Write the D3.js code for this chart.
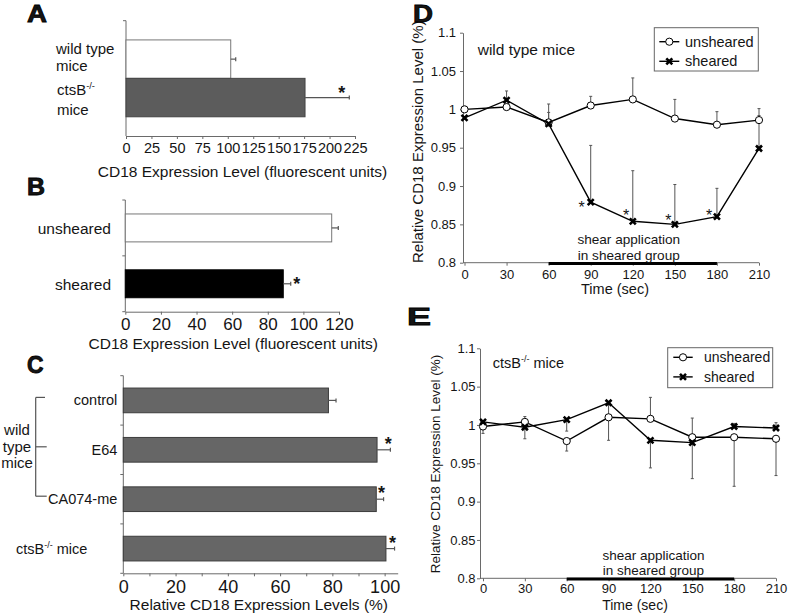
<!DOCTYPE html>
<html><head><meta charset="utf-8">
<script src="https://cdn.jsdelivr.net/npm/d3@7"></script>
<style>
body{margin:0;background:#fff}
svg{display:block}
text{font-family:"Liberation Sans",Arial,Helvetica,sans-serif;fill:#151515}
</style>
</head><body>
<svg id="c" width="791" height="616"></svg>
<script>
// ---------------- DATA ----------------
// Panel A
const aCats = ["wild type mice", "ctsB-/- mice"];
const aValues = [102.9, 175.9];
const aErrors = [4.9, 43.5];
const aSig = [false, true];
const aTicks = [0, 25, 50, 75, 100, 125, 150, 175, 200, 225];
// Panel B
const bCats = ["unsheared", "sheared"];
const bValues = [115.9, 88.7];
const bErrors = [3.7, 4.2];
const bSig = [false, true];
const bTicks = [0, 20, 40, 60, 80, 100, 120];
// Panel C
const cCats = ["control", "E64", "CA074-me", "ctsB-/- mice"];
const cValues = [78.5, 97.1, 96.8, 100.5];
const cErrors = [2.9, 5.1, 2.8, 3.3];
const cSig = [false, true, true, true];
const cTicks = [0, 20, 40, 60, 80, 100];
const cMinorTicks = [10, 30, 50, 70, 90];
// Panels D and E (time course)
const timePoints = [0, 30, 60, 90, 120, 150, 180, 210];
const yTicks = [0.8, 0.85, 0.9, 0.95, 1, 1.05, 1.1];
const shearWindow = [60, 180];
// D: wild type mice (error bars drawn upward)
const dUnsheared    = [1.000, 1.003, 0.983, 1.005, 1.013, 0.988, 0.980, 0.986];
const dUnshearedErr = [0.004, 0.000, 0.024, 0.012, 0.028, 0.025, 0.017, 0.015];
const dSheared      = [0.989, 1.012, 0.981, 0.879, 0.854, 0.850, 0.860, 0.949];
const dShearedErr   = [0.000, 0.012, 0.015, 0.074, 0.066, 0.052, 0.037, 0.043];
const dSig          = [false, false, false, true, true, true, true, false];
// E: ctsB-/- mice (signed error: + up, - down)
const eUnsheared    = [0.998, 1.004, 0.979, 1.010, 1.008, 0.984, 0.984, 0.982];
const eUnshearedErr = [-0.009, 0.007, -0.013, -0.030, 0.028, 0.025, -0.064, -0.048];
const eSheared      = [1.004, 0.997, 1.007, 1.029, 0.980, 0.977, 0.998, 0.996];
const eShearedErr   = [0.000, -0.015, -0.015, -0.020, -0.036, -0.047, 0.004, 0.007];
const seriesNames = ["unsheared", "sheared"];

// ---------------- HELPERS ----------------
const svg = d3.select("#c");
const FONT = '"Liberation Sans", Arial, Helvetica, sans-serif';
const AX = "#6a6a6a";

function styleAxis(g, size) {
  g.attr("font-family", FONT).attr("font-size", size);
  g.select(".domain").attr("stroke", AX);
  g.selectAll(".tick line").attr("stroke", AX);
  g.selectAll(".tick text").attr("fill", "#151515");
}
function txt(x, y, s, size, anchor, weight) {
  return svg.append("text").attr("x", x).attr("y", y).attr("font-size", size)
    .attr("text-anchor", anchor || "start").attr("font-weight", weight || "normal").text(s);
}
function supTxt(x, y, base, sup, rest, size, anchor) {
  const t = svg.append("text").attr("x", x).attr("y", y).attr("font-size", size)
    .attr("text-anchor", anchor || "start");
  t.append("tspan").text(base);
  t.append("tspan").attr("dy", -size * 0.42).attr("font-size", size * 0.62).text(sup);
  if (rest) t.append("tspan").attr("dy", size * 0.42).text(rest);
  return t;
}
function panelLetter(x, y, s, w) {
  svg.append("text").attr("x", x).attr("y", y).attr("font-size", 23).attr("font-weight", "bold")
    .attr("stroke", "#000").attr("stroke-width", 0.8).attr("fill", "#000")
    .attr("textLength", w).attr("lengthAdjust", "spacingAndGlyphs").text(s);
}

// ---------------- BAR PANELS ----------------
function barPanel(o) {
  const g = svg.append("g");
  const x = d3.scaleLinear().domain([0, o.xMax]).range([o.x0, o.x1]);
  const y = d3.scaleBand().domain(o.cats).range([o.yTop, o.yBot])
    .paddingInner(o.pi).paddingOuter(o.po);
  const step = y.step();
  const xa = g.append("g").attr("transform", `translate(0,${o.yBot})`)
    .call(d3.axisBottom(x).tickValues(o.ticks).tickSize(3).tickSizeOuter(0).tickPadding(o.tickPad));
  styleAxis(xa, o.tickFont);
  if (o.minor) {
    const xm = g.append("g").attr("transform", `translate(0,${o.yBot})`)
      .call(d3.axisBottom(x).tickValues(o.minor).tickSize(3).tickSizeOuter(0).tickFormat(""));
    styleAxis(xm, o.tickFont);
    xm.select(".domain").remove();
  }
  g.append("line").attr("x1", o.x0).attr("x2", o.x0).attr("y1", o.yTop).attr("y2", o.yBot)
    .attr("stroke", AX);
  o.yTickIdx.forEach(k => {
    const yy = o.yTop + k * step;
    g.append("line").attr("x1", o.x0 - 3).attr("x2", o.x0).attr("y1", yy).attr("y2", yy).attr("stroke", AX);
  });
  g.selectAll("rect.bar").data(o.cats).join("rect").attr("class", "bar")
    .attr("x", x(0)).attr("y", d => y(d))
    .attr("width", (d, i) => x(o.values[i]) - x(0)).attr("height", y.bandwidth())
    .attr("fill", (d, i) => o.fills[i]).attr("stroke", (d, i) => o.strokes[i]).attr("stroke-width", 1);
  o.cats.forEach((c, i) => {
    const cy = y(c) + y.bandwidth() / 2;
    const xe = x(o.values[i] + o.errors[i]);
    g.append("line").attr("x1", x(o.values[i])).attr("x2", xe).attr("y1", cy).attr("y2", cy)
      .attr("stroke", "#555").attr("stroke-width", 1.2);
    g.append("line").attr("x1", xe).attr("x2", xe).attr("y1", cy - 2).attr("y2", cy + 2)
      .attr("stroke", "#555").attr("stroke-width", 1.2);
    if (o.sig[i]) {
      g.append("text").attr("x", xe + o.astDx).attr("y", cy + o.astDy + 10)
        .attr("font-size", 18).attr("font-weight", "bold").attr("text-anchor", "middle").text("*");
    }
  });
  return { x, y };
}

// Panel A
const A = barPanel({
  cats: aCats, values: aValues, errors: aErrors, sig: aSig, ticks: aTicks,
  xMax: 225, x0: 126, x1: 355, yTop: 20.7, yBot: 136, pi: 0, po: 0.5,
  tickPad: 4, tickFont: 14.5, yTickIdx: [0],
  fills: ["#ffffff", "#5c5c5c"], strokes: ["#777", "#444"], astDx: -7.6, astDy: -9
});
txt(56, 53.5, "wild type", 15);
txt(56, 70.5, "mice", 15);
supTxt(57, 95, "ctsB", "-/-", null, 15);
txt(57, 114.5, "mice", 15);
txt(242.5, 176.5, "CD18 Expression Level (fluorescent units)", 15.5, "middle");
panelLetter(27, 22, "A", 20);

// Panel B
const B = barPanel({
  cats: bCats, values: bValues, errors: bErrors, sig: bSig, ticks: bTicks,
  xMax: 120, x0: 125.3, x1: 339, yTop: 200, yBot: 311.7, pi: 0.5, po: 0.25,
  tickPad: 3, tickFont: 17, yTickIdx: [0, 1, 2],
  fills: ["#ffffff", "#000000"], strokes: ["#777", "#000"], astDx: 6, astDy: -3.4
});
bCats.forEach((c, i) => txt(111, B.y(c) + B.y.bandwidth() / 2 + 6, c, 15.5, "end"));
txt(233.3, 348.5, "CD18 Expression Level (fluorescent units)", 15.5, "middle");
panelLetter(27, 195, "B", 18);

// Panel C
const C = barPanel({
  cats: cCats, values: cValues, errors: cErrors, sig: cSig, ticks: cTicks, minor: cMinorTicks,
  xMax: 105, x0: 123.3, x1: 397.7, yTop: 375.7, yBot: 573.3, pi: 0.5, po: 0.25,
  tickPad: 4, tickFont: 18, yTickIdx: [0, 1, 2, 3, 4],
  fills: ["#666", "#666", "#666", "#666"], strokes: ["#3c3c3c", "#3c3c3c", "#3c3c3c", "#3c3c3c"],
  astDx: -2, astDy: -10
});
cCats.slice(0, 3).forEach(c => txt(117.3, C.y(c) + C.y.bandwidth() / 2 + 5, c, 14.5, "end"));
supTxt(16, C.y(cCats[3]) + C.y.bandwidth() / 2 + 5, "ctsB", "-/-", " mice", 14.5);
{
  const wt = svg.append("text").attr("x", 17).attr("y", 435).attr("font-size", 15).attr("text-anchor", "middle");
  wt.append("tspan").attr("x", 17).text("wild");
  wt.append("tspan").attr("x", 17).attr("dy", 16.5).text("type");
  wt.append("tspan").attr("x", 17).attr("dy", 16.5).text("mice");
}
{
  const yt = C.y(cCats[0]) + C.y.bandwidth() / 2 - 3;
  const ym = C.y(cCats[1]) + C.y.bandwidth() / 2 - 3;
  const yb = C.y(cCats[2]) + C.y.bandwidth() / 2 - 3;
  const br = svg.append("g").attr("stroke", "#555").attr("stroke-width", 1.2);
  br.append("line").attr("x1", 35.7).attr("x2", 35.7).attr("y1", yt).attr("y2", yb);
  br.append("line").attr("x1", 35.7).attr("x2", 45).attr("y1", yt).attr("y2", yt);
  br.append("line").attr("x1", 35.7).attr("x2", 46.7).attr("y1", ym).attr("y2", ym);
  br.append("line").attr("x1", 35.7).attr("x2", 46.7).attr("y1", yb).attr("y2", yb);
}
txt(258.8, 610, "Relative CD18 Expression Levels (%)", 15.5, "middle");
panelLetter(27, 373, "C", 16.5);

// ---------------- LINE PANELS ----------------
function xMarker(g, cx, cy, s) {
  const m = g.append("g").attr("transform", `translate(${cx},${cy})`);
  m.append("path").attr("d", `M${-s},${-s}L${s},${s}M${-s},${s}L${s},${-s}`)
    .attr("stroke", "#000").attr("stroke-width", 2.6).attr("fill", "none");
  m.append("rect").attr("x", -1.6).attr("y", -1.6).attr("width", 3.2).attr("height", 3.2).attr("fill", "#000");
}
function oMarker(g, cx, cy) {
  g.append("circle").attr("cx", cx).attr("cy", cy).attr("r", 3.6)
    .attr("fill", "#fff").attr("stroke", "#000").attr("stroke-width", 1);
}

function linePanel(o) {
  const g = svg.append("g");
  const x = d3.scaleLinear().domain([0, 210]).range([o.x0, o.x1]);
  const y = d3.scaleLinear().domain([0.8, 1.1]).range([o.yBot, o.yTop]);
  const xa = g.append("g").attr("transform", `translate(0,${o.yBot})`)
    .call(d3.axisBottom(x).tickValues(timePoints).tickSize(3).tickSizeOuter(0).tickPadding(o.xPad));
  styleAxis(xa, 13);
  xa.select(".domain").remove();
  g.append("line").attr("x1", o.axisX).attr("x2", x(210)).attr("y1", o.yBot).attr("y2", o.yBot).attr("stroke", AX);
  const ya = g.append("g").attr("transform", `translate(${o.axisX},0)`)
    .call(d3.axisLeft(y).tickValues(yTicks).tickSize(3).tickSizeOuter(0).tickPadding(o.yPad).tickFormat(d => String(d)));
  styleAxis(ya, 13);
  g.append("line").attr("x1", x(shearWindow[0])).attr("x2", x(shearWindow[1]))
    .attr("y1", o.yBot + 0.8).attr("y2", o.yBot + 0.8).attr("stroke", "#000").attr("stroke-width", 3);
  const midT = (shearWindow[0] + shearWindow[1]) / 2;
  const cx = x(midT) + o.shearDx;
  g.append("text").attr("x", cx).attr("y", o.shearY1).attr("font-size", o.shearFont)
    .attr("text-anchor", "middle").text("shear application");
  g.append("text").attr("x", cx).attr("y", o.shearY2).attr("font-size", o.shearFont)
    .attr("text-anchor", "middle").text("in sheared group");
  const series = [
    { name: seriesNames[0], v: o.uns, e: o.unsErr },
    { name: seriesNames[1], v: o.she, e: o.sheErr }
  ];
  series.forEach(s => {
    s.v.forEach((v, i) => {
      if (!s.e[i]) return;
      const xx = x(timePoints[i]);
      const y2 = y(v + s.e[i]);
      g.append("line").attr("x1", xx).attr("x2", xx).attr("y1", y(v)).attr("y2", y2)
        .attr("stroke", "#555").attr("stroke-width", 1);
      g.append("line").attr("x1", xx - 1.5).attr("x2", xx + 1.5).attr("y1", y2).attr("y2", y2)
        .attr("stroke", "#555").attr("stroke-width", 1);
    });
  });
  const line = d3.line().x((d, i) => x(timePoints[i])).y(d => y(d));
  series.forEach(s => {
    g.append("path").datum(s.v).attr("d", line).attr("fill", "none")
      .attr("stroke", "#000").attr("stroke-width", 1.4);
  });
  o.uns.forEach((v, i) => oMarker(g, x(timePoints[i]), y(v)));
  o.she.forEach((v, i) => xMarker(g, x(timePoints[i]), y(v), 3));
  if (o.sig) {
    o.sig.forEach((s, i) => {
      if (!s) return;
      const off = o.starOff[i];
      g.append("text").attr("x", x(timePoints[i]) + off[0]).attr("y", y(o.she[i]) + off[1] + 9)
        .attr("font-size", 16).attr("text-anchor", "middle").text("*");
    });
  }
  const L = o.legend;
  g.append("rect").attr("x", L.x).attr("y", L.y).attr("width", L.w).attr("height", L.h)
    .attr("fill", "#fff").attr("stroke", "#666").attr("stroke-width", 1);
  seriesNames.forEach((n, k) => {
    const ly = L.y + L.row0 + k * 19.6;
    g.append("line").attr("x1", L.x + L.lx0).attr("x2", L.x + L.lx1).attr("y1", ly).attr("y2", ly)
      .attr("stroke", "#000").attr("stroke-width", 1.4);
    const mx = L.x + (L.lx0 + L.lx1) / 2;
    if (k === 0) oMarker(g, mx, ly); else xMarker(g, mx, ly, 3);
    g.append("text").attr("x", L.x + L.tx).attr("y", ly + 5).attr("font-size", L.font).text(n);
  });
  return { x, y };
}

// Panel D
linePanel({
  x0: 464.5, x1: 759, yTop: 32.7, yBot: 262.7, axisX: 463, xPad: 3.8, yPad: 4,
  uns: dUnsheared, unsErr: dUnshearedErr, she: dSheared, sheErr: dShearedErr,
  sig: dSig, starOff: [null, null, null, [-9, 2.3], [-6.6, -9.4], [-6.6, -7], [-7.7, -4.4], null],
  shearDx: -4, shearY1: 244, shearY2: 260, shearFont: 13.6,
  legend: { x: 654.3, y: 27.7, w: 104, h: 43.3, row0: 14, lx0: 5, lx1: 25, tx: 30.7, font: 14.5 }
});
txt(477.7, 55, "wild type mice", 15.5);
txt(615, 294.3, "Time (sec)", 14.5, "middle");
svg.append("text").attr("transform", "translate(423,141.7) rotate(-90)").attr("font-size", 15)
  .attr("text-anchor", "middle").text("Relative CD18 Expression Level (%)");
panelLetter(413, 22, "D", 20);

// Panel E
linePanel({
  x0: 483, x1: 776, yTop: 348.3, yBot: 578.3, axisX: 480, xPad: 2.2, yPad: 1.5,
  uns: eUnsheared, unsErr: eUnshearedErr, she: eSheared, sheErr: eShearedErr,
  sig: null, starOff: null,
  shearDx: 3, shearY1: 559.5, shearY2: 575.3, shearFont: 13.5,
  legend: { x: 667.7, y: 347.7, w: 105, h: 40, row0: 9.6, lx0: 5.6, lx1: 25, tx: 36.3, font: 14 }
});
supTxt(492.7, 368.3, "ctsB", "-/-", " mice", 14.5);
txt(635, 610, "Time (sec)", 14, "middle");
svg.append("text").attr("transform", "translate(440,464) rotate(-90)").attr("font-size", 13.5)
  .attr("text-anchor", "middle").text("Relative CD18 Expression Level (%)");
panelLetter(407, 325, "E", 24);
</script>
</body></html>
